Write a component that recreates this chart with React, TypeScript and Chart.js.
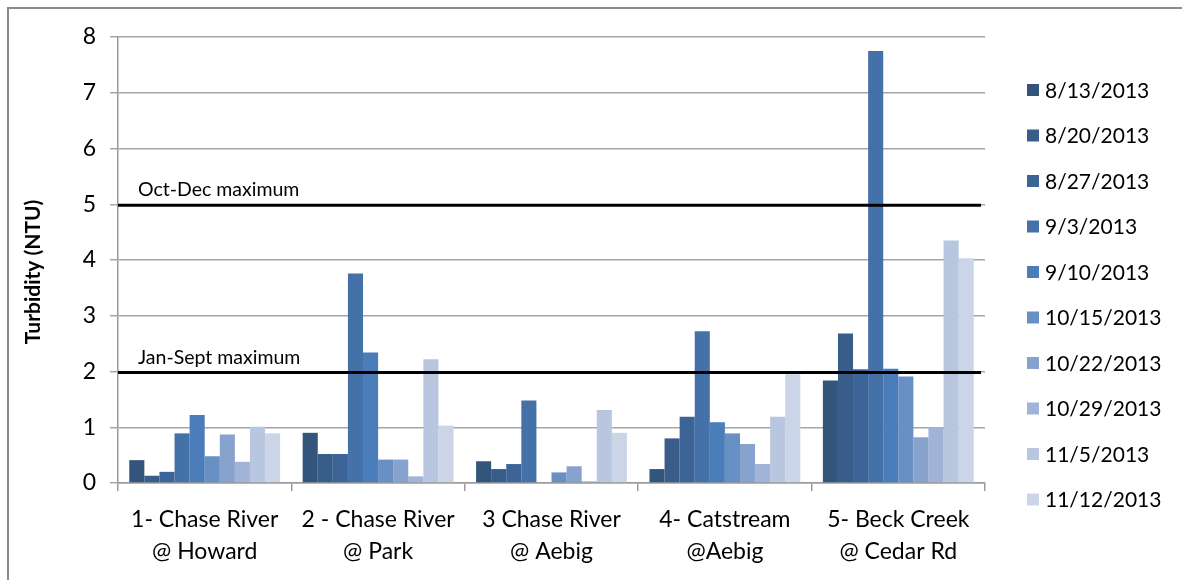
import React, { useEffect, useRef } from "react";
import { Chart, registerables } from "chart.js";

Chart.register(...registerables);

const categories: string[][] = [
  ["1- Chase River", "@ Howard"],
  ["2 - Chase River", "@ Park"],
  ["3 Chase River", "@ Aebig"],
  ["4- Catstream", "@Aebig"],
  ["5- Beck Creek", "@ Cedar Rd"],
];

const seriesLabels: string[] = [
  "8/13/2013",
  "8/20/2013",
  "8/27/2013",
  "9/3/2013",
  "9/10/2013",
  "10/15/2013",
  "10/22/2013",
  "10/29/2013",
  "11/5/2013",
  "11/12/2013",
];

const seriesColors: string[] = [
  "#33557C",
  "#385D8A",
  "#3C6496",
  "#4571A9",
  "#4A7DBA",
  "#6890C5",
  "#87A2CD",
  "#A1B3D7",
  "#B9C6DF",
  "#CCD5E7",
];

// values per date, one entry per site
const d0813 = [0.41, 0.9, 0.39, 0.25, 1.84];
const d0820 = [0.13, 0.52, 0.25, 0.8, 2.68];
const d0827 = [0.2, 0.52, 0.34, 1.19, 2.04];
const d0903 = [0.89, 3.76, 1.48, 2.72, 7.75];
const d0910 = [1.22, 2.34, 0, 1.09, 2.05];
const d1015 = [0.48, 0.42, 0.19, 0.89, 1.91];
const d1022 = [0.87, 0.42, 0.3, 0.7, 0.82];
const d1029 = [0.38, 0.12, 0.03, 0.34, 1.0];
const d1105 = [1.01, 2.22, 1.31, 1.19, 4.35];
const d1112 = [0.89, 1.03, 0.9, 1.95, 4.03];

const seriesValues: number[][] = [d0813, d0820, d0827, d0903, d0910, d1015, d1022, d1029, d1105, d1112];

const thresholds: number[] = [5, 2];
const thresholdLabels: string[] = ["Oct-Dec maximum", "Jan-Sept maximum"];

const yTicks: number[] = [0, 1, 2, 3, 4, 5, 6, 7, 8];
const yTitle = "Turbidity (NTU)";

const FONT = "Lato";

const thresholdPlugin = {
  id: "thresholdLines",
  afterDatasetsDraw(chart: any) {
    const { ctx, chartArea, scales } = chart;
    const y = scales.y;
    ctx.save();
    thresholds.forEach((v, i) => {
      const py = y.getPixelForValue(v) + 1;
      ctx.strokeStyle = "#000000";
      ctx.lineWidth = 3;
      ctx.beginPath();
      ctx.moveTo(chartArea.left, py);
      ctx.lineTo(chartArea.right - 4, py);
      ctx.stroke();
      ctx.fillStyle = "#000000";
      ctx.font = `19.5px ${FONT}`;
      ctx.textAlign = "left";
      ctx.textBaseline = "alphabetic";
      ctx.fillText(thresholdLabels[i], chartArea.left + 20, py - 9);
    });
    ctx.restore();
  },
};

const decorPlugin = {
  id: "sideLegendAndTitle",
  afterDraw(chart: any) {
    const { ctx } = chart;
    ctx.save();
    const x0 = 1027;
    const y0 = 90;
    const step = 45.5;
    chart.data.datasets.forEach((ds: any, i: number) => {
      const cy = y0 + i * step;
      ctx.fillStyle = ds.backgroundColor;
      ctx.fillRect(x0, cy - 6, 12, 12);
      ctx.fillStyle = "#000000";
      ctx.font = `21px ${FONT}`;
      ctx.textAlign = "left";
      ctx.textBaseline = "middle";
      ctx.fillText(ds.label, x0 + 18, cy + 1);
    });
    // y axis title
    ctx.translate(33, 272);
    ctx.rotate(-Math.PI / 2);
    ctx.fillStyle = "#000000";
    ctx.font = `bold 21px ${FONT}`;
    ctx.textAlign = "center";
    ctx.textBaseline = "middle";
    ctx.fillText(yTitle, 0, 0);
    ctx.restore();
  },
};

export default function App() {
  const ref = useRef<HTMLCanvasElement | null>(null);

  useEffect(() => {
    if (!ref.current) return;
    const chart = new Chart(ref.current, {
      type: "bar",
      data: {
        labels: categories,
        datasets: seriesLabels.map((label, i) => ({
          label,
          data: seriesValues[i],
          backgroundColor: seriesColors[i],
          borderWidth: 0,
          categoryPercentage: 0.87,
          barPercentage: 1.0,
        })),
      },
      options: {
        animation: false,
        responsive: false,
        maintainAspectRatio: false,
        layout: { padding: { top: 37, right: 197, left: 0, bottom: 0 } },
        plugins: {
          legend: { display: false },
          tooltip: { enabled: false },
          title: { display: false },
        },
        scales: {
          x: {
            grid: {
              display: true,
              drawOnChartArea: false,
              drawTicks: true,
              tickLength: 8,
              color: "#9a9a9a",
              lineWidth: 1.5,
              offset: true,
            },
            border: { display: true, color: "#9a9a9a", width: 1.5 },
            ticks: {
              color: "#000000",
              font: { family: FONT, size: 23, lineHeight: 1.4 },
              padding: 12,
              maxRotation: 0,
              minRotation: 0,
              autoSkip: false,
            },
            afterFit(scale: any) {
              scale.height = 97;
            },
          },
          y: {
            min: 0,
            max: 8,
            afterBuildTicks(scale: any) {
              scale.ticks = yTicks.map((v) => ({ value: v }));
            },
            grid: {
              color: "#a6a6a6",
              lineWidth: 1.5,
              tickLength: 8,
              drawTicks: true,
            },
            border: { display: true, color: "#9a9a9a", width: 1.5 },
            ticks: {
              color: "#000000",
              font: { family: FONT, size: 23 },
              padding: 14,
            },
            title: { display: false },
            afterFit(scale: any) {
              scale.width = 118;
            },
          },
        },
      },
      plugins: [thresholdPlugin, decorPlugin],
    } as any);
    return () => chart.destroy();
  }, []);

  return (
    <div style={{ position: "absolute", left: 0, top: 0, width: 1182, height: 580, overflow: "hidden", background: "#ffffff" }}>
      <div
        style={{
          position: "absolute",
          left: 7,
          top: 7,
          width: 1200,
          height: 600,
          border: "2.5px solid #8a8a8a",
          boxSizing: "border-box",
        }}
      />
      <canvas ref={ref} width={1182} height={580} style={{ position: "absolute", left: 0, top: 0, width: 1182, height: 580 }} />
    </div>
  );
}
